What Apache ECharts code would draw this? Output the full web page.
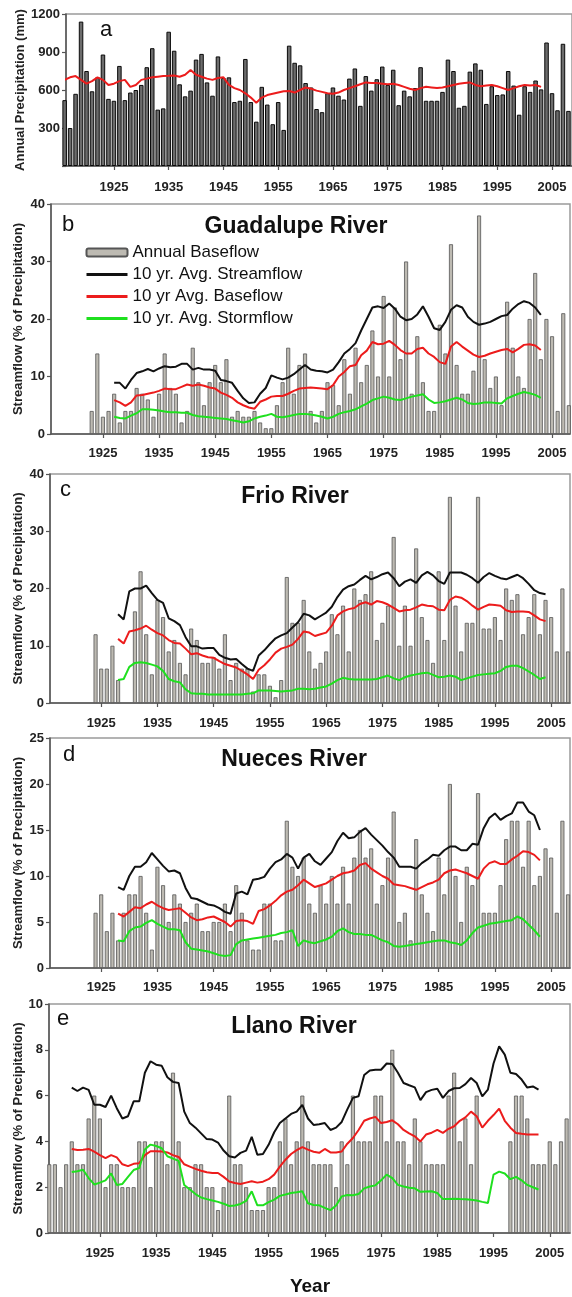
<!DOCTYPE html>
<html>
<head>
<meta charset="utf-8">
<title>Streamflow as percent of precipitation</title>
<script src="https://cdn.jsdelivr.net/npm/echarts@6/dist/echarts.min.js"></script>
<style>
html, body { margin: 0; padding: 0; background: #fff; }
#chart { width: 572px; height: 1297px; }
</style>
</head>
<body>
<div id="chart"></div>
<script>
// ---- data ----
var tickYears = [1925, 1935, 1945, 1955, 1965, 1975, 1985, 1995, 2005];

// a: annual precipitation (mm), from 1916
var precipStart = 1916;
var precip = [520, 300, 570, 1140, 750, 590, 700, 880, 530, 515, 790,
  520, 580, 600, 640, 780, 930, 445, 455, 1060, 910,
  645, 550, 595, 840, 885, 660, 555, 865, 695, 700,
  505, 515, 845, 505, 350, 625, 485, 330, 505, 285,
  950, 815, 795, 655, 620, 450, 425, 575, 620, 555,
  525, 690, 770, 475, 710, 595, 685, 785, 640, 760,
  480, 595, 550, 615, 780, 515, 515, 515, 585, 840,
  750, 460, 475, 745, 810, 760, 490, 630, 560, 565,
  750, 635, 405, 630, 585, 675, 605, 975, 575, 440,
  965, 435];
var precipAvgStart = 1916;
var precipAvg = [680, 700, 710, 680, 650, 670, 700, 680, 640, 650,
  670, 680, 625, 640, 680, 690, 700, 705, 710, 712,
  715, 705, 720, 757, 720, 705, 690, 680, 695, 700,
  640, 615, 600, 574, 540, 500, 540, 560, 570, 580,
  590, 592, 580, 600, 620, 610, 595, 585, 575, 570,
  580, 600, 615, 630, 645, 660, 655, 655, 650, 645,
  650, 640, 625, 610, 600, 615, 625, 620, 615, 620,
  630, 640, 650, 655, 660, 640, 630, 635, 640, 630,
  615, 600, 615, 630, 640, 635, 640, 625];

// b: Guadalupe River
var gBarStart = 1923;
var gBase = [4, 14, 3, 4, 7, 2, 4, 4, 8, 7,
  6, 3, 7, 14, 8, 7, 2, 4, 15, 9,
  5, 9, 12, 9, 13, 3, 4, 3, 3, 4,
  2, 1, 1, 5, 9, 15, 7, 12, 14, 4,
  2, 4, 9, 8.5, 5, 13, 7, 15, 9, 12,
  18, 10, 24, 10, 22, 13, 30, 7, 17, 9,
  4, 4, 19, 14, 33, 12, 7, 7, 11, 38,
  13, 8, 10, 5, 23, 15, 10, 8, 20, 28,
  13, 20, 17, 4, 21, 5];
var gLineStart = 1927;
var gAvgStream = [8.9, 8.9, 7.9, 9.4, 10.6, 10.9, 11.3, 10.9, 11.4, 11.8,
  11.6, 11.7, 12.2, 12.2, 11.2, 11.5, 11.2, 11.2, 11.0, 9.4,
  9.2, 8.9, 7.5, 6.2, 5.4, 5.5, 7.0, 8.0, 10.2, 9.8,
  9.5, 9.8, 10.4, 11.2, 12.0, 11.2, 11.0, 10.9, 10.7, 11.2,
  12.5, 14.0, 14.8, 15.8, 18.0, 20.0, 22.0, 22.2, 21.9, 22.7,
  21.8, 20.4, 19.8, 20.0, 20.8, 22.2, 20.4, 18.4, 18.1, 19.5,
  21.6, 22.4, 22.0, 20.4, 19.5, 19.0, 19.2, 19.5, 20.0, 20.5,
  20.7, 21.8, 22.6, 23.1, 22.8, 22.0, 20.7];
var gAvgBase = [5.9, 5.5, 4.9, 5.5, 6.7, 6.8, 7.0, 7.2, 7.5, 7.9,
  7.8, 7.8, 8.2, 8.6, 8.4, 8.6, 8.4, 8.1, 7.9, 7.2,
  6.8, 6.3, 5.5, 5.0, 4.6, 4.4, 5.6, 6.0, 6.5, 6.6,
  6.6, 7.0, 7.5, 7.9, 8.0, 8.1, 8.0, 7.9, 7.8, 8.5,
  10.0, 10.8, 11.8, 12.0, 13.7, 14.5, 16.0, 15.6, 15.7, 16.2,
  15.5, 14.6, 14.0, 14.0, 14.8, 15.0, 14.0, 13.4, 12.5, 12.2,
  15.2, 16.0, 15.2, 14.5, 13.8, 13.4, 13.6, 14.0, 14.3, 14.6,
  14.8, 14.2, 14.8, 15.5, 15.6, 15.4, 14.6];
var gAvgStorm = [3.0, 2.8, 2.7, 3.2, 3.6, 4.3, 4.3, 4.2, 4.1, 3.9,
  3.8, 3.8, 3.7, 3.7, 3.3, 3.1, 3.0, 2.9, 2.8, 2.7,
  2.6, 2.4, 2.2, 2.0, 2.2, 2.7, 3.0, 3.2, 3.5, 3.0,
  2.9, 3.1, 3.3, 3.5, 3.5, 3.4, 3.2, 3.0, 2.7, 3.0,
  3.5, 3.8, 4.0, 4.3, 4.8, 5.3, 5.9, 6.2, 6.5, 6.3,
  6.0, 5.9, 6.2, 6.5, 6.7, 6.9, 6.0, 5.4, 5.5, 5.7,
  6.0, 6.3, 6.0, 5.4, 5.2, 5.3, 5.5, 5.5, 5.4, 5.3,
  6.2, 6.6, 7.0, 7.3, 7.1, 6.8, 6.3];

// c: Frio River
var fBarStart = 1924;
var fBase = [12, 6, 6, 10, 4, null, null, 16, 23, 12,
  5, 18, 15, 9, 11, 7, 5, 13, 11, 7,
  7, 8, 6, 12, 4, 7, 6, 6, 2, 5,
  5, 3, 1, 4, 22, 14, 14, 18, 9, 6,
  7, 9, 15.5, 12, 17, 9, 20, 18, 19, 23,
  11, 14, 17, 29, 10, 17, 10, 27, 15, 11,
  7, 23, 11, 36, 17, 9, 14, 14, 36, 13,
  13, 15, 11, 20, 18, 19, 12, 15, 19, 12,
  18, 15, 9, 20, 9];
var fLineStart = 1928;
var fAvgStream = [15.5, 14.6, 19.5, 20.0, 20.0, 20.5, 19.2, 18.0, 17.5, 14.8,
  14.3, 13.6, 11.5, 9.9, 9.9, 9.5, 9.6, 9.6, 8.4, 7.9,
  7.6, 7.7, 6.8, 6.0, 5.6, 8.3, 9.2, 10.3, 11.3, 11.8,
  12.2, 13.2, 14.1, 15.6, 15.3, 14.6, 15.2, 15.8, 16.8, 18.5,
  19.8, 20.4, 20.7, 21.5, 22.2, 21.6, 22.0, 22.5, 22.8, 21.8,
  20.4, 21.2, 21.6, 21.0, 22.3, 22.9, 22.3, 21.3, 20.8, 22.8,
  22.8, 22.8, 22.4, 21.8, 21.0, 22.0, 22.7, 22.2, 21.8, 21.6,
  22.0, 22.4, 21.8, 20.8, 19.7, 19.2, 19.0];
var fAvgBase = [11.2, 10.4, 12.5, 12.7, 13.0, 13.5, 12.8, 12.2, 11.8, 11.0,
  10.5, 10.4, 9.5, 8.5, 8.7, 8.3, 8.0, 7.9, 7.3, 6.8,
  6.5, 6.2, 5.6, 5.0, 4.2, 5.8, 6.6, 7.6, 8.8, 9.5,
  9.8, 10.2, 11.2, 12.5, 12.3, 11.7, 12.0, 12.3, 13.5, 15.3,
  16.0, 16.4, 16.6, 17.3, 17.6, 17.2, 17.8, 17.6, 17.2, 16.6,
  16.0, 16.2, 16.3, 16.7, 17.2, 17.0, 16.9, 16.3, 16.2, 18.0,
  18.6, 18.4, 17.8, 17.0, 16.3, 16.8, 17.2, 17.1, 17.0, 16.2,
  15.9, 16.0, 16.0, 15.9, 15.3, 14.6, 14.3];
var fAvgStorm = [4.0, 4.2, 6.3, 7.0, 7.1, 7.0, 6.7, 6.4, 5.6, 4.2,
  3.8, 3.6, 2.4, 1.7, 1.6, 1.6, 1.5, 1.5, 1.5, 1.5,
  1.5, 1.5, 1.5, 1.6, 1.7, 2.2, 2.2, 2.2, 2.1, 2.0,
  2.1, 2.2, 2.5, 2.5, 2.4, 2.5, 2.7, 2.9, 3.4, 4.0,
  4.4, 4.2, 4.1, 4.1, 4.1, 4.1, 4.2, 4.5, 4.8, 4.3,
  4.0, 4.5, 4.8, 5.0, 5.2, 5.3, 4.9, 4.5, 4.6, 4.8,
  4.6, 4.0, 4.3, 4.6, 4.9, 5.0, 5.1, 5.2, 5.6, 6.3,
  6.5, 6.5, 6.1, 5.5, 4.9, 4.2, 4.5];

// d: Nueces River
var nBarStart = 1924;
var nBase = [6, 8, 4, 6, 3, 6, 8, 8, 10, 6,
  2, 11, 9, 5, 8, 7, 5, 6, 7, 4,
  4, 5, 5, 7, 4, 9, 6, 3, 2, 2,
  7, 7, 3, 3, 16, 11, 10, 12, 7, 6,
  9, 7, 10, 7, 11, 7, 12, 15, 12, 13,
  7, 9, 12, 17, 5, 6, 3, 14, 8, 6,
  4, 12, 8, 20, 10, 5, 11, 9, 19, 6,
  6, 6, 9, 14, 16, 16, 11, 16, 9, 10,
  13, 12, 6, 16, 8];
var nLineStart = 1928;
var nAvgStream = [8.8, 8.5, 10.0, 11.0, 11.0, 11.5, 12.5, 11.8, 11.1, 10.5,
  10.6, 10.3, 8.7, 7.6, 7.5, 7.2, 6.9, 6.8, 6.5, 6.1,
  5.9, 8.1, 8.3, 8.0, 9.6, 9.7, 9.9, 10.8, 11.5, 11.8,
  12.4, 12.0, 10.8, 12.0, 12.4, 11.6, 11.2, 11.9, 12.6, 13.8,
  14.7, 14.1, 14.2, 14.8, 15.2, 14.5, 13.9, 13.3, 12.6, 12.0,
  11.0, 11.0, 11.0, 10.8, 11.4, 11.8, 12.3, 12.2, 12.8, 13.2,
  13.2, 12.8, 12.8, 13.5, 13.4, 15.2, 16.3, 16.8, 16.1, 16.5,
  16.8, 18.0, 18.0, 17.0, 16.6, 15.0];
var nAvgBase = [5.9, 5.6, 6.1, 6.6, 6.5, 6.9, 7.2, 6.8, 6.5, 6.3,
  6.4, 6.5, 6.0, 5.5, 5.2, 5.3, 5.5, 5.6, 5.3, 5.0,
  4.5, 5.1, 5.2, 5.1, 4.8, 6.2, 6.4, 6.8, 7.3, 7.9,
  8.3, 8.5, 9.0, 9.6, 9.2, 8.8, 9.0, 9.2, 9.6, 10.0,
  10.3, 10.4, 10.6, 11.2, 11.4, 10.8, 10.4, 10.0, 9.7, 9.1,
  9.0, 8.9, 8.7, 8.5, 8.8, 9.1, 9.3, 9.6, 10.3, 10.6,
  10.7, 10.5, 10.3, 10.0, 9.7, 10.8, 11.4, 11.6, 11.3, 11.3,
  11.8, 12.2, 12.7, 12.6, 12.3, 11.7];
var nAvgStorm = [3.0, 2.9, 4.0, 4.4, 4.5, 4.9, 5.2, 4.8, 4.5, 4.2,
  4.2, 4.1, 2.8, 2.1, 2.0, 1.9, 1.8, 1.6, 1.4, 1.3,
  1.4, 2.6, 3.0, 3.1, 3.2, 3.3, 3.4, 3.5, 3.6, 3.8,
  3.9, 4.1, 2.4, 3.0, 2.8, 2.7, 2.9, 3.1, 3.4, 4.0,
  4.3, 3.9, 3.7, 3.7, 3.6, 3.6, 3.3, 3.0, 2.8, 2.4,
  2.3, 2.4, 2.5, 2.6, 2.7, 2.8, 2.9, 3.0, 3.0, 2.8,
  2.7, 2.5, 3.0, 3.8, 4.4, 4.6, 4.8, 4.9, 5.0, 5.1,
  5.2, 5.6, 5.3, 4.7, 4.1, 3.4];

// e: Llano River
var lBarStart = 1916;
var lBase = [3, 3, 2, 3, 4, 3, 3, 5, 6, 5,
  2, 3, 3, 2, 2, 2, 4, 4, 2, 4,
  4, 3, 7, 4, 2, 2, 3, 3, 2, 2,
  1, 2, 6, 3, 3, 2, 1, 1, 1, 2,
  2, 4, 5, 3, 4, 6, 4, 3, 3, 3,
  3, 2, 4, 3, 6, 4, 4, 4, 6, 6,
  4, 8, 4, 4, 3, 5, 4, 3, 3, 3,
  3, 6, 7, 4, 5, 3, 6, null, null, null,
  null, null, 4, 6, 6, 5, 3, 3, 3, 4,
  3, 4, 5];
var lLineStart = 1920;
var lAvgStream = [6.35, 6.2, 6.35, 6.25, 5.6, 5.6, 5.5, 6.0, 5.45, 5.0,
  5.1, 5.75, 5.75, 7.0, 7.5, 7.35, 7.3, 6.8, 6.6, 6.55,
  5.3, 4.8, 4.6, 4.35, 4.1, 4.08, 3.95, 3.6, 3.35, 3.3,
  3.5, 3.6, 4.2, 3.42, 3.45, 3.85, 4.4, 4.8, 5.0, 5.2,
  5.3, 5.6, 5.0, 4.72, 4.75, 4.8, 4.5, 4.6, 4.85, 5.4,
  5.9, 5.97, 6.9, 7.1, 7.13, 7.13, 7.4, 7.38, 7.0, 6.55,
  6.45, 6.36, 5.8, 6.15, 6.25, 6.3, 5.9, 6.2, 6.32, 6.33,
  6.5, 6.77, 6.55, 5.97, 6.26, 7.4, 8.15, 7.79, 7.0, 6.94,
  6.7, 6.35, 6.4, 6.26];
var lAvgBase = [3.67, 3.62, 3.64, 3.67, 3.55, 3.4, 3.27, 3.4, 3.3, 3.0,
  2.92, 3.02, 3.05, 3.4, 3.57, 3.57, 3.56, 3.52, 3.4, 3.32,
  3.0, 2.9, 2.8, 2.72, 2.65, 2.62, 2.62, 2.45, 2.25, 2.18,
  2.14, 2.2, 2.26, 2.2, 2.24, 2.35, 2.55, 2.9, 3.2, 3.45,
  3.62, 3.75, 3.64, 3.55, 3.5, 3.67, 3.52, 3.52, 3.56, 3.9,
  4.15, 4.5, 4.9, 5.0, 5.07, 4.8, 4.85, 4.92, 4.75, 4.5,
  4.35, 4.22, 4.0, 4.3, 4.38, 4.5, 4.37, 4.55, 4.66, 4.9,
  5.05, 5.3, 5.1, 4.6, 4.9, 5.15, 5.43, 4.9, 4.6, 4.37,
  4.33, 4.3, 4.3, 4.3];
var lAvgStorm = [2.66, 2.7, 2.76, 2.4, 2.12, 2.2, 2.3, 2.6, 2.1, 2.14,
  2.45, 2.75, 2.84, 3.65, 3.86, 3.8, 3.7, 3.35, 3.25, 3.15,
  2.1, 1.9, 1.7, 1.55, 1.48, 1.42, 1.36, 1.28, 1.18, 1.2,
  1.27, 1.4, 1.82, 1.21, 1.21, 1.35, 1.46, 1.62, 1.68, 1.75,
  1.78, 1.82, 1.3, 1.22, 1.21, 1.1, 1.0, 1.2, 1.6, 1.66,
  1.65, 1.7, 1.95, 2.03, 2.08, 2.3, 2.55, 2.4, 2.1, 2.03,
  1.98, 1.95, 1.8, 1.81, 1.82, 1.75, 1.48, 1.48, 1.5, 1.48,
  1.47, 1.45, 1.42, 1.36, 1.31, 2.55, 2.68, 2.6, 2.35, 2.45,
  2.3, 2.1, 2.0, 1.9];

// ---- layout ----
var FONT = '"Liberation Sans", Arial, Helvetica, sans-serif';
var panels = [
  { left: 66, right: 0, top: 14, height: 152, xmin: 1916.25, xmax: 2008.65, ymax: 1200, yint: 300, yname: 'Annual Precipitation (mm)', gap: 39, lm: 15 },
  { left: 51, right: 2, top: 204, height: 230, xmin: 1915.75, xmax: 2008.2, ymax: 40, yint: 10, yname: 'Streamflow (% of Precipitation)', gap: 26, lm: 13 },
  { left: 50, right: 2, top: 474, height: 229, xmin: 1915.9, xmax: 2008.35, ymax: 40, yint: 10, yname: 'Streamflow (% of Precipitation)', gap: 25, lm: 14 },
  { left: 50, right: 2, top: 738, height: 230, xmin: 1915.9, xmax: 2008.35, ymax: 25, yint: 5, yname: 'Streamflow (% of Precipitation)', gap: 25, lm: 13 },
  { left: 49, right: 2, top: 1004, height: 229, xmin: 1915.95, xmax: 2008.6, ymax: 10, yint: 2, yname: 'Streamflow (% of Precipitation)', gap: 24, lm: 14 }
];

function toPairs(start, vals) {
  return vals.map(function (v, i) { return [start + i, v]; });
}

var grids = [], xAxes = [], yAxes = [];
panels.forEach(function (p, i) {
  grids.push({
    left: p.left, right: p.right, top: p.top, height: p.height,
    show: true, borderColor: '#9a9a9a', borderWidth: 1.5,
    outerBoundsMode: 'none'
  });
  xAxes.push({
    type: 'value', gridIndex: i, min: p.xmin, max: p.xmax,
    axisLine: { show: true, onZero: false, lineStyle: { color: '#555', width: 1.5 } },
    axisTick: { show: true, customValues: tickYears, length: 4, lineStyle: { color: '#555', width: 1.2 } },
    axisLabel: {
      customValues: tickYears, margin: p.lm,
      color: '#222', fontSize: 13, fontWeight: 'bold', fontFamily: FONT,
      formatter: function (v) { return String(v); }
    },
    splitLine: { show: false }
  });
  yAxes.push({
    type: 'value', gridIndex: i, min: 0, max: p.ymax, interval: p.yint,
    name: p.yname, nameLocation: 'middle', nameGap: p.gap, nameMoveOverlap: false,
    nameTextStyle: { color: '#222', fontSize: 13, fontWeight: 'bold', fontFamily: FONT },
    axisLine: { show: true, lineStyle: { color: '#555', width: 1.5 } },
    axisTick: { show: true, length: 4, lineStyle: { color: '#555', width: 1.2 } },
    axisLabel: {
      margin: 6, color: '#222', fontSize: 13, fontWeight: 'bold', fontFamily: FONT,
      formatter: function (v) { return (i === 0 && v === 0) ? '' : String(v); }
    },
    splitLine: { show: false }
  });
});

var barStyle = { color: '#bdbab2', borderColor: '#555', borderWidth: 0.8 };
function barSeries(idx, start, vals) {
  return {
    name: 'Annual Baseflow', type: 'bar', xAxisIndex: idx, yAxisIndex: idx,
    data: toPairs(start, vals), barWidth: 4, itemStyle: barStyle,
    clip: true, silent: true, animation: false
  };
}
function lineSeries(idx, name, color, start, vals) {
  return {
    name: name, type: 'line', xAxisIndex: idx, yAxisIndex: idx,
    data: toPairs(start, vals), symbol: 'none', showSymbol: false,
    lineStyle: { color: color, width: 2 }, itemStyle: { color: color },
    silent: true, animation: false, z: 3
  };
}

var BLACK = '#111111', RED = '#ec1c1c', GREEN = '#1fe01f';
var S1 = '10 yr. Avg. Streamflow', S2 = '10 yr Avg. Baseflow', S3 = '10 yr. Avg. Stormflow';

var series = [
  {
    name: 'Annual Precipitation', type: 'bar', xAxisIndex: 0, yAxisIndex: 0,
    data: toPairs(precipStart, precip), barWidth: 4.5,
    itemStyle: { color: '#6c6c6c', borderColor: '#0a0a0a', borderWidth: 1 },
    clip: true, silent: true, animation: false
  },
  lineSeries(0, '10 yr Avg. Precipitation', RED, precipAvgStart, precipAvg),

  barSeries(1, gBarStart, gBase),
  lineSeries(1, S1, BLACK, gLineStart, gAvgStream),
  lineSeries(1, S2, RED, gLineStart, gAvgBase),
  lineSeries(1, S3, GREEN, gLineStart, gAvgStorm),

  barSeries(2, fBarStart, fBase),
  lineSeries(2, S1, BLACK, fLineStart, fAvgStream),
  lineSeries(2, S2, RED, fLineStart, fAvgBase),
  lineSeries(2, S3, GREEN, fLineStart, fAvgStorm),

  barSeries(3, nBarStart, nBase),
  lineSeries(3, S1, BLACK, nLineStart, nAvgStream),
  lineSeries(3, S2, RED, nLineStart, nAvgBase),
  lineSeries(3, S3, GREEN, nLineStart, nAvgStorm),

  barSeries(4, lBarStart, lBase),
  lineSeries(4, S1, BLACK, lLineStart, lAvgStream),
  lineSeries(4, S2, RED, lLineStart, lAvgBase),
  lineSeries(4, S3, GREEN, lLineStart, lAvgStorm)
];

function label(txt, x, y, size, weight, align) {
  return {
    type: 'text', x: x, y: y, z: 10, silent: true,
    style: {
      text: txt, fill: '#111', fontSize: size, fontWeight: weight, fontFamily: FONT,
      align: align, verticalAlign: 'middle'
    }
  };
}

// legend: hide the symbol dot on the line items, keep just the stroke
var noDot = { opacity: 0 };

var option = {
  backgroundColor: '#ffffff',
  animation: false,
  grid: grids,
  xAxis: xAxes,
  yAxis: yAxes,
  series: series,
  legend: {
    data: [
      { name: 'Annual Baseflow' },
      { name: S1, itemStyle: noDot },
      { name: S2, itemStyle: noDot },
      { name: S3, itemStyle: noDot }
    ],
    orient: 'vertical', left: 80, top: 239,
    itemWidth: 41, itemHeight: 8, itemGap: 5,
    selectedMode: false,
    lineStyle: { width: 3 },
    textStyle: { fontSize: 17, lineHeight: 17, color: '#111', fontFamily: FONT }
  },
  graphic: [
    label('a', 100, 30, 22, 'normal', 'left'),
    label('b', 62, 225, 22, 'normal', 'left'),
    label('c', 60, 490, 22, 'normal', 'left'),
    label('d', 63, 755, 22, 'normal', 'left'),
    label('e', 57, 1019, 22, 'normal', 'left'),
    label('Guadalupe River', 296, 227, 23, 'bold', 'center'),
    label('Frio River', 295, 497, 23, 'bold', 'center'),
    label('Nueces River', 294, 760, 23, 'bold', 'center'),
    label('Llano River', 294, 1027, 23, 'bold', 'center'),
    label('Year', 310, 1287, 19, 'bold', 'center')
  ]
};

var chart = echarts.init(document.getElementById('chart'), null, { renderer: 'canvas' });
chart.setOption(option);
</script>
</body>
</html>
